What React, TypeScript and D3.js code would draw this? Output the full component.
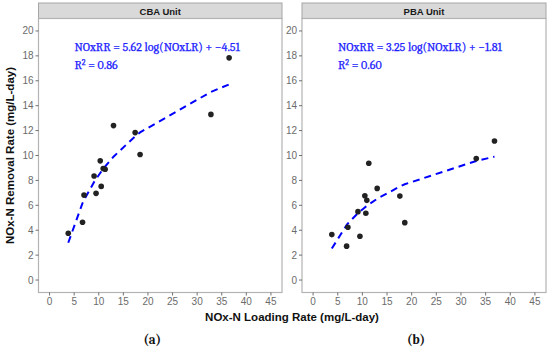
import React from 'react';
import * as d3 from 'd3';

// NOx-N loading rate (x) and removal rate (y)
const cbaLoading = [3.8, 6.7, 7.0, 9.05, 9.45, 10.5, 10.3, 10.9, 11.3, 13.0, 17.4, 18.4, 32.8, 36.5];
const cbaRemoval = [3.76, 4.64, 6.82, 8.35, 6.96, 7.52, 9.57, 8.96, 8.9, 12.4, 11.84, 10.08, 13.3, 17.84];
const pbaLoading = [3.8, 6.8, 7.06, 9.1, 9.5, 10.5, 10.7, 10.9, 11.3, 13.0, 17.6, 18.6, 33.1, 36.8];
const pbaRemoval = [3.65, 2.72, 4.24, 5.49, 3.52, 6.77, 5.36, 6.4, 9.38, 7.36, 6.74, 4.61, 9.76, 11.17];

// log fit coefficients shown on the chart
const cbaFit = { a: 5.62, b: -4.51, r2: '0.86' };
const pbaFit = { a: 3.25, b: -1.81, r2: '0.60' };

const xTicks = [0, 5, 10, 15, 20, 25, 30, 35, 40, 45];
const yTicks = [0, 2, 4, 6, 8, 10, 12, 14, 16, 18, 20];

const panels = [
  { title: 'CBA Unit', tag: '(a)', xs: cbaLoading, ys: cbaRemoval, fit: cbaFit, left: 38.5, right: 282 },
  { title: 'PBA Unit', tag: '(b)', xs: pbaLoading, ys: pbaRemoval, fit: pbaFit, left: 302, right: 546 },
];

const stripTop = 3;
const panelTop = 18.5;
const panelBottom = 292.5;
const sans = 'Arial, "Liberation Sans", sans-serif';
const serif = 'Cambria, "Liberation Serif", serif';

function Panel({ p }: { p: typeof panels[0] }) {
  const x = d3.scaleLinear().domain([-2.25, 47.25]).range([p.left, p.right]);
  const y = d3.scaleLinear().domain([-1, 21]).range([panelBottom, panelTop]);

  const fitPts = p.xs
    .map((v) => [v, p.fit.a * Math.log(v) + p.fit.b] as [number, number])
    .sort((m, n) => m[0] - n[0]);
  const line = d3.line<[number, number]>().x((d) => x(d[0])).y((d) => y(d[1]));

  const cx = (p.left + p.right) / 2;
  const sign = p.fit.b < 0 ? '\u2212' : '';
  return (
    <g>
      <rect x={p.left} y={stripTop} width={p.right - p.left} height={panelTop - stripTop}
        fill="#d9d9d9" stroke="#a6a6a6" strokeWidth={1} />
      <text x={cx} y={14.5} textAnchor="middle" fontFamily={sans} fontWeight="bold" fontSize={9.5} fill="#1a1a1a">{p.title}</text>
      <rect x={p.left} y={panelTop} width={p.right - p.left} height={panelBottom - panelTop}
        fill="white" stroke="#b3b3b3" strokeWidth={1.2} />
      {yTicks.map((t) => (
        <g key={'y' + t}>
          <line x1={p.left - 3} x2={p.left} y1={y(t)} y2={y(t)} stroke="#4d4d4d" strokeWidth={0.8} />
          <text x={p.left - 5} y={y(t)} dy="0.35em" textAnchor="end" fontFamily={sans} fontSize={10} fill="#6b6b6b">{t}</text>
        </g>
      ))}
      {xTicks.map((t) => (
        <g key={'x' + t}>
          <line x1={x(t)} x2={x(t)} y1={panelBottom} y2={panelBottom + 3} stroke="#4d4d4d" strokeWidth={0.8} />
          <text x={x(t)} y={panelBottom + 12} textAnchor="middle" fontFamily={sans} fontSize={10} fill="#6b6b6b">{t}</text>
        </g>
      ))}
      <path d={line(fitPts) || ''} fill="none" stroke="#0000ff" strokeWidth={2} strokeDasharray="7,5" />
      {p.xs.map((v, i) => (
        <circle key={i} cx={x(v)} cy={y(p.ys[i])} r={2.8} fill="#222" />
      ))}
      <text x={p.left + 36} y={51} fontFamily={serif} fontSize={12} fill="#2020ff" stroke="#2020ff" strokeWidth={0.25}>
        {`NOxRR = ${p.fit.a.toFixed(2)} log(NOxLR) + ${sign}${Math.abs(p.fit.b).toFixed(2)}`}
      </text>
      <text x={p.left + 36} y={69} fontFamily={serif} fontSize={12} fill="#2020ff" stroke="#2020ff" strokeWidth={0.25}>
        R<tspan dy="-4" fontSize={8}>2</tspan><tspan dy="4">{` = ${p.fit.r2}`}</tspan>
      </text>
      <text x={cx - 8} y={344} textAnchor="middle" fontFamily={serif} fontWeight="bold" fontSize={13} fill="#111">{p.tag}</text>
    </g>
  );
}

export default function App() {
  return (
    <svg width={550} height={350} style={{ display: 'block', position: 'absolute', left: 0, top: 0, background: 'white' }}>
      {panels.map((p) => <Panel key={p.title} p={p} />)}
      <text transform={`translate(14,${(panelTop + panelBottom) / 2}) rotate(-90)`} textAnchor="middle"
        fontFamily={sans} fontWeight="bold" fontSize={11.5} fill="#111">NOx-N Removal Rate (mg/L-day)</text>
      <text x={292} y={321} textAnchor="middle" fontFamily={sans} fontWeight="bold" fontSize={11.5} fill="#111">NOx-N Loading Rate (mg/L-day)</text>
    </svg>
  );
}
